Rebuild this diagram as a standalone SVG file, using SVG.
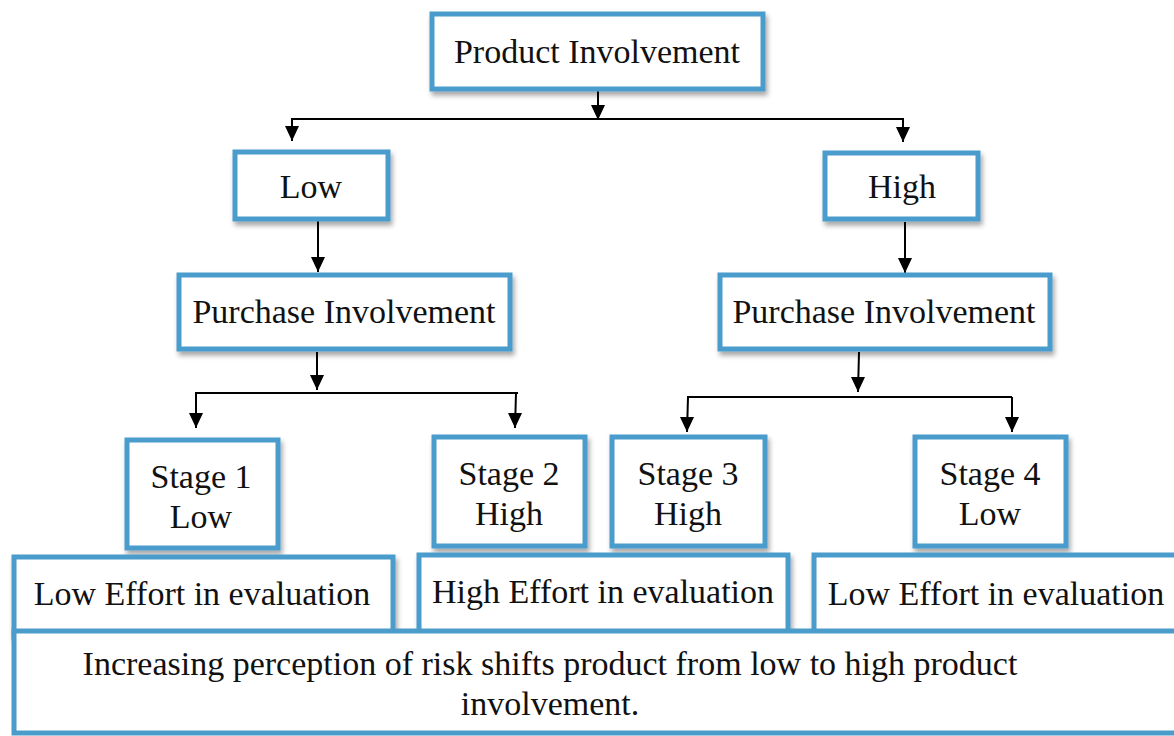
<svg xmlns="http://www.w3.org/2000/svg" width="1174" height="736" viewBox="0 0 1174 736">
<style>
.box{fill:#fff;stroke:#4a9ccb;stroke-width:5;filter:url(#sh)}
.flat{fill:#fff;stroke:#4a9ccb;stroke-width:5}
.t{font-family:"Liberation Serif","Times New Roman",serif;font-size:34px;fill:#111;text-anchor:middle}
.c{stroke:#000;stroke-width:2;fill:none}
</style>
<defs>
<filter id="sh" x="-10%" y="-10%" width="130%" height="140%">
<feDropShadow dx="2" dy="4" stdDeviation="2.5" flood-color="#000" flood-opacity="0.35"/>
</filter>
<marker id="ad" markerUnits="userSpaceOnUse" markerWidth="14" markerHeight="16" refX="7" refY="15" viewBox="0 0 14 16">
<path d="M0,0 L14,0 L7,15 Z" fill="#000"/>
</marker>
</defs>
<rect width="1174" height="736" fill="#fff"/>
<g id="connectors">
<line class="c" x1="598" y1="90" x2="598" y2="120" marker-end="url(#ad)"/>
<line class="c" x1="291" y1="119" x2="904" y2="119"/>
<line class="c" x1="292" y1="119" x2="292" y2="141" marker-end="url(#ad)"/>
<line class="c" x1="903" y1="119" x2="903" y2="142" marker-end="url(#ad)"/>
<line class="c" x1="318" y1="220" x2="318" y2="272" marker-end="url(#ad)"/>
<line class="c" x1="317" y1="352" x2="317" y2="390" marker-end="url(#ad)"/>
<line class="c" x1="195" y1="393" x2="518" y2="393"/>
<line class="c" x1="196" y1="393" x2="196" y2="428" marker-end="url(#ad)"/>
<line class="c" x1="516" y1="393" x2="515" y2="428" marker-end="url(#ad)"/>
<line class="c" x1="905" y1="222" x2="905" y2="273" marker-end="url(#ad)"/>
<line class="c" x1="859" y1="352" x2="858" y2="392" marker-end="url(#ad)"/>
<line class="c" x1="687" y1="397" x2="1012" y2="397"/>
<line class="c" x1="688" y1="397" x2="687" y2="432" marker-end="url(#ad)"/>
<line class="c" x1="1012" y1="397" x2="1012" y2="432" marker-end="url(#ad)"/>
</g>
<g id="product-involvement">
<rect class="box" x="432" y="14" width="331" height="75"/>
<text class="t" x="597" y="63">Product Involvement</text>
</g>
<g id="low">
<rect class="box" x="235" y="152" width="153" height="67"/>
<text class="t" x="311" y="198">Low</text>
</g>
<g id="high">
<rect class="box" x="825" y="153" width="153" height="66"/>
<text class="t" x="902" y="198">High</text>
</g>
<g id="purchase-low">
<rect class="box" x="179" y="275" width="331" height="74"/>
<text class="t" x="344" y="323">Purchase Involvement</text>
</g>
<g id="purchase-high">
<rect class="box" x="720" y="275" width="330" height="74"/>
<text class="t" x="884" y="323">Purchase Involvement</text>
</g>
<g id="stage1">
<rect class="box" x="127" y="440" width="151" height="108"/>
<text class="t" x="201" y="488">Stage 1</text>
<text class="t" x="201" y="528">Low</text>
</g>
<g id="stage2">
<rect class="box" x="434" y="437" width="151" height="109"/>
<text class="t" x="509" y="485">Stage 2</text>
<text class="t" x="509" y="525">High</text>
</g>
<g id="stage3">
<rect class="box" x="612" y="437" width="153" height="109"/>
<text class="t" x="688" y="485">Stage 3</text>
<text class="t" x="688" y="525">High</text>
</g>
<g id="stage4">
<rect class="box" x="915" y="437" width="151" height="109"/>
<text class="t" x="990" y="485">Stage 4</text>
<text class="t" x="990" y="525">Low</text>
</g>
<g id="effort1">
<rect class="box" x="14" y="557" width="379" height="80"/>
<text class="t" x="202" y="605">Low Effort in evaluation</text>
</g>
<g id="effort2">
<rect class="box" x="419" y="555" width="369" height="82"/>
<text class="t" x="603" y="603">High Effort in evaluation</text>
</g>
<g id="effort3">
<rect class="box" x="814" y="555" width="400" height="82"/>
<text class="t" x="996" y="605">Low Effort in evaluation</text>
</g>
<g id="risk-note">
<rect class="flat" x="14" y="631" width="1200" height="102"/>
<text class="t" x="550" y="675">Increasing perception of risk shifts product from low to high product</text>
<text class="t" x="550" y="715">involvement.</text>
</g>
</svg>
